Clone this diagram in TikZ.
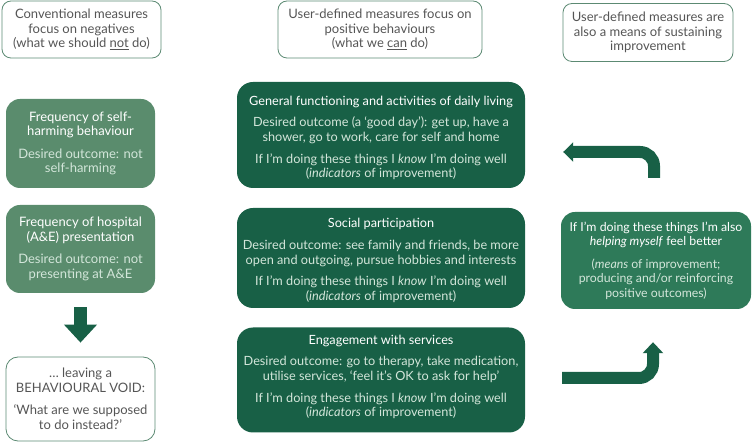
\documentclass[tikz,border=0pt]{standalone}
\usepackage{fontspec}
\setmainfont{Lato}
\usetikzlibrary{arrows.meta}
\definecolor{dkgreen}{HTML}{186046}
\definecolor{ltgreen}{HTML}{5A8C6D}
\definecolor{mdgreen}{HTML}{2E7A59}
\definecolor{hdrline}{HTML}{5C8A73}
\definecolor{hdrtext}{HTML}{555555}
\definecolor{paletxt}{HTML}{D3E6DA}
\newcommand{\pl}[1]{\textcolor{paletxt}{#1}}
\begin{document}
\begin{tikzpicture}[x=1pt,y=-1pt,
  hdr/.style={draw=hdrline, line width=0.8pt, rounded corners=9pt, text=hdrtext, align=center, inner sep=0pt, font=\fontsize{13}{14.5}\selectfont},
  lbox/.style={fill=ltgreen, rounded corners=14pt, text=white, align=center, inner sep=0pt, font=\fontsize{13}{14.5}\selectfont},
  mbox/.style={fill=dkgreen, rounded corners=16pt, inner sep=0pt, minimum width=288pt},
  mtext/.style={text=white, align=center, inner sep=0pt, font=\fontsize{12.7}{14.7}\selectfont},
  rbox/.style={fill=mdgreen, rounded corners=14pt, text=white, align=center, inner sep=0pt, font=\fontsize{12.3}{14.5}\selectfont},
  bigarrow/.style={draw=dkgreen, line width=12pt, rounded corners=14pt}
]
\useasboundingbox (0,0) rectangle (753,443);

% headers
\node[hdr, minimum width=159pt, minimum height=57pt] (H1) at (81.5,29.5)
  {Conventional measures\\focus on negatives\\(what we should \underline{not} do)};
\node[hdr, minimum width=204pt, minimum height=57pt] (H2) at (380,29.5)
  {User-defined measures focus on\\positive behaviours\\(what we \underline{can} do)};
\node[hdr, minimum width=170pt, minimum height=58pt] (H3) at (648,32.5)
  {User-defined measures are\\also a means of sustaining\\improvement};

% left column
\node[lbox, minimum width=149pt, minimum height=89pt] (L1) at (80.5,143.5)
  {Frequency of self-\\harming behaviour\\[8pt]\pl{Desired outcome: not}\\\pl{self-harming}};
\node[lbox, minimum width=149pt, minimum height=88pt] (L2) at (80.5,249)
  {Frequency of hospital\\(A\&E) presentation\\[8pt]\pl{Desired outcome: not}\\\pl{presenting at A\&E}};
\node[hdr, rounded corners=12pt, minimum width=149pt, minimum height=84pt] (V) at (80.5,399)
  {… leaving a\\BEHAVIOURAL VOID:\\[8pt]‘What are we supposed\\to do instead?’};

% middle column
\node[mbox, minimum height=106pt] (M1) at (381,135) {};
\node[mtext] (M1t) at ([yshift=-3pt]M1.center)
  {General functioning and activities of daily living\\[7pt]
   \pl{Desired outcome (a ‘good day’): get up, have a}\\
   \pl{shower, go to work, care for self and home}\\[7pt]
   \pl{If I’m doing these things I \emph{know} I’m doing well}\\
   \pl{(\emph{indicators} of improvement)}};
\node[mbox, minimum height=100pt] (M2) at (381,258) {};
\node[mtext] (M2t) at ([yshift=-2.5pt]M2.center)
  {Social participation\\[7pt]
   \pl{Desired outcome: see family and friends, be more}\\
   \pl{open and outgoing, pursue hobbies and interests}\\[7pt]
   \pl{If I’m doing these things I \emph{know} I’m doing well}\\
   \pl{(\emph{indicators} of improvement)}};
\node[mbox, minimum height=105pt] (M3) at (381,380) {};
\node[mtext] (M3t) at ([yshift=3pt]M3.center)
  {Engagement with services\\[7pt]
   \pl{Desired outcome: go to therapy, take medication,}\\
   \pl{utilise services, ‘feel it’s OK to ask for help’}\\[7pt]
   \pl{If I’m doing these things I \emph{know} I’m doing well}\\
   \pl{(\emph{indicators} of improvement)}};

% right column
\node[rbox, minimum width=190pt, minimum height=97pt] (R) at (656,260.5)
  {If I’m doing these things I’m also\\\emph{helping myself} feel better\\[8pt]
   \pl{(\emph{means} of improvement;}\\\pl{producing and/or reinforcing}\\\pl{positive outcomes)}};

% arrows
\draw[draw=dkgreen, line width=13pt, -{Triangle[length=18pt,width=32pt]}, shorten <=14pt, shorten >=14pt] (L2.south) -- (V.north);
\draw[bigarrow, -{Triangle[length=10pt,width=19pt]}] ([xshift=-2pt,yshift=34pt]R.north) |- ([xshift=38pt,yshift=-17pt]M1.east);
\draw[bigarrow, -{Triangle[length=11pt,width=20pt]}] ([xshift=37pt,yshift=2pt]M3.east) -| ([xshift=-3pt,yshift=-33pt]R.south);
\end{tikzpicture}
\end{document}
